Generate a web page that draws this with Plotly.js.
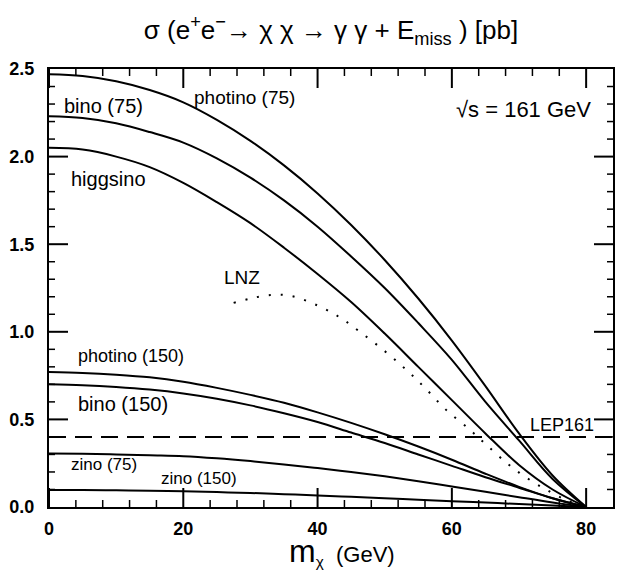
<!DOCTYPE html>
<html>
<head>
<meta charset="utf-8">
<script src="https://cdn.plot.ly/plotly-3.0.1.min.js"></script>
<style>html,body{margin:0;padding:0;background:#fff;}#chart{width:620px;height:575px;}</style>
</head>
<body>
<div id="chart"></div>
<script>
// neutralino mass grid (GeV)
const massGrid = [0,5,10,15,20,25,30,35,40,45,50,55,60,65,70,75,80];
const photino75  = [2.47,2.46,2.43,2.38,2.31,2.21,2.09,1.95,1.79,1.61,1.41,1.19,0.95,0.69,0.42,0.18,0.0];
const bino75     = [2.23,2.22,2.19,2.14,2.08,1.99,1.88,1.75,1.60,1.43,1.25,1.05,0.84,0.60,0.38,0.16,0.0];
const higgsino   = [2.05,2.04,2.00,1.94,1.85,1.74,1.62,1.48,1.33,1.17,0.99,0.80,0.61,0.42,0.24,0.10,0.0];
const photino150 = [0.77,0.765,0.755,0.74,0.715,0.68,0.64,0.595,0.54,0.48,0.415,0.345,0.27,0.19,0.115,0.05,0.0];
const bino150    = [0.70,0.695,0.685,0.67,0.648,0.618,0.58,0.535,0.485,0.425,0.365,0.30,0.235,0.17,0.11,0.05,0.0];
const zino75     = [0.305,0.304,0.30,0.295,0.29,0.278,0.262,0.243,0.222,0.20,0.175,0.147,0.117,0.087,0.056,0.026,0.0];
const zino150    = [0.097,0.097,0.095,0.093,0.09,0.085,0.08,0.073,0.066,0.058,0.05,0.042,0.033,0.025,0.017,0.008,0.0];
// LNZ model (dotted)
const lnzMass = [27.5,30,33,36,40,43.4,46.3,50,53.3,56,59,62.7,65,68.2,71,74,77,80];
const lnzXsec = [1.165,1.19,1.21,1.205,1.15,1.08,1.00,0.89,0.78,0.68,0.56,0.44,0.36,0.25,0.17,0.10,0.04,0.0];
// LEP161 limit
const lepLimit = 0.40;
const lepMass = [0, 84];

// axis ticks
const xMajorTicks = [0,20,40,60,80];
const xMinorTicks = [4,8,12,16,24,28,32,36,44,48,52,56,64,68,72,76,84];
const yMajorTicks = [0.0,0.5,1.0,1.5,2.0,2.5];
const yMinorTicks = [0.1,0.2,0.3,0.4,0.6,0.7,0.8,0.9,1.1,1.2,1.3,1.4,1.6,1.7,1.8,1.9,2.1,2.2,2.3,2.4];
const xRange = [0,84], yRange = [0,2.5];

const lineStyle = {color:'#000', width:2, shape:'spline', smoothing:1};
function curve(x,y){ return {x:x, y:y, type:'scatter', mode:'lines', line:lineStyle, hoverinfo:'skip', showlegend:false}; }

const traces = [
  curve(massGrid, photino75),
  curve(massGrid, bino75),
  curve(massGrid, higgsino),
  curve(massGrid, photino150),
  curve(massGrid, bino150),
  curve(massGrid, zino75),
  curve(massGrid, zino150),
  {x:lnzMass, y:lnzXsec, type:'scatter', mode:'lines', line:{color:'#000', width:2, dash:'2px,10px', shape:'spline'}, showlegend:false},
  {x:lepMass, y:lepMass.map(()=>lepLimit), type:'scatter', mode:'lines', line:{color:'#000', width:2, dash:'17px,9px'}, showlegend:false}
];

// inward tick marks on all four sides, placed through the axes' own scales (length in pixels)
const tickShapes = [];
function xTick(v, len, w){
  tickShapes.push({type:'line', layer:'above', xref:'x', x0:v, x1:v, yref:'y', ysizemode:'pixel', yanchor:yRange[0], y0:0, y1:len, line:{color:'#000', width:w}});
  tickShapes.push({type:'line', layer:'above', xref:'x', x0:v, x1:v, yref:'y', ysizemode:'pixel', yanchor:yRange[1], y0:0, y1:-len, line:{color:'#000', width:w}});
}
function yTick(v, len, w){
  tickShapes.push({type:'line', layer:'above', yref:'y', y0:v, y1:v, xref:'x', xsizemode:'pixel', xanchor:xRange[0], x0:0, x1:len, line:{color:'#000', width:w}});
  tickShapes.push({type:'line', layer:'above', yref:'y', y0:v, y1:v, xref:'x', xsizemode:'pixel', xanchor:xRange[1], x0:0, x1:-len, line:{color:'#000', width:w}});
}
xMajorTicks.forEach(v => xTick(v, 19, 2));
xMinorTicks.filter(v => v < xRange[1]).forEach(v => xTick(v, 7, 1.5));
yMajorTicks.filter(v => v > yRange[0] && v < yRange[1]).forEach(v => yTick(v, 19, 2));
yMinorTicks.forEach(v => yTick(v, 6, 1.5));

const F = 'Liberation Sans, Arial, sans-serif';
function ann(text, x, y, size, xanchor){
  return {text:text, x:x, y:y, xref:'x', yref:'y', showarrow:false, xanchor:xanchor||'left', yanchor:'middle', font:{family:F, size:size, color:'#000'}};
}

const axisCommon = {
  showgrid:false, zeroline:false, showline:true, linecolor:'#000', linewidth:2, mirror:true,
  ticks:'', tickfont:{family:F, size:18, color:'#000', weight:'bold'}
};

const layout = {
  width:620, height:575,
  margin:{l:49, r:7, t:69, b:68},
  paper_bgcolor:'#fff', plot_bgcolor:'#fff',
  title:{
    text:'σ (e<sup>+</sup>e<sup>−</sup>→ χ χ → γ γ + E<sub>miss</sub> ) [pb]',
    font:{family:F, size:26, color:'#000'},
    x:0.5, xref:'paper', y:1-30/575, yref:'container', yanchor:'middle'
  },
  xaxis:Object.assign({}, axisCommon, {range:xRange, tickmode:'array', tickvals:xMajorTicks, ticktext:xMajorTicks.map(String), ticklabelstandoff:4}),
  yaxis:Object.assign({}, axisCommon, {range:yRange, tickmode:'array', tickvals:yMajorTicks, ticktext:yMajorTicks.map(v => v.toFixed(1)), ticklabelstandoff:9}),
  shapes:tickShapes,
  annotations:[
    ann('photino (75)', 21.3, 2.34, 19),
    ann('bino (75)', 2.0, 2.29, 20),
    ann('higgsino', 3.0, 1.87, 20),
    ann('√s = 161 GeV', 81.0, 2.27, 22, 'right'),
    ann('LNZ', 25.8, 1.31, 19),
    ann('photino (150)', 4.0, 0.86, 18),
    ann('bino (150)', 4.0, 0.59, 20),
    ann('zino (75)', 3.0, 0.24, 17),
    ann('zino (150)', 16.4, 0.16, 17),
    ann('LEP161', 71.4, 0.47, 18),
    {text:'<span style="font-size:32px">m</span><sub>χ</sub>&nbsp;&nbsp;(GeV)', xref:'paper', yref:'paper', x:(287-49)/564, y:(507-551)/438,
     xanchor:'left', yanchor:'middle', showarrow:false, font:{family:F, size:22, color:'#000'}}
  ]
};

Plotly.newPlot('chart', traces, layout, {displayModeBar:false, staticPlot:true});
</script>
</body>
</html>
